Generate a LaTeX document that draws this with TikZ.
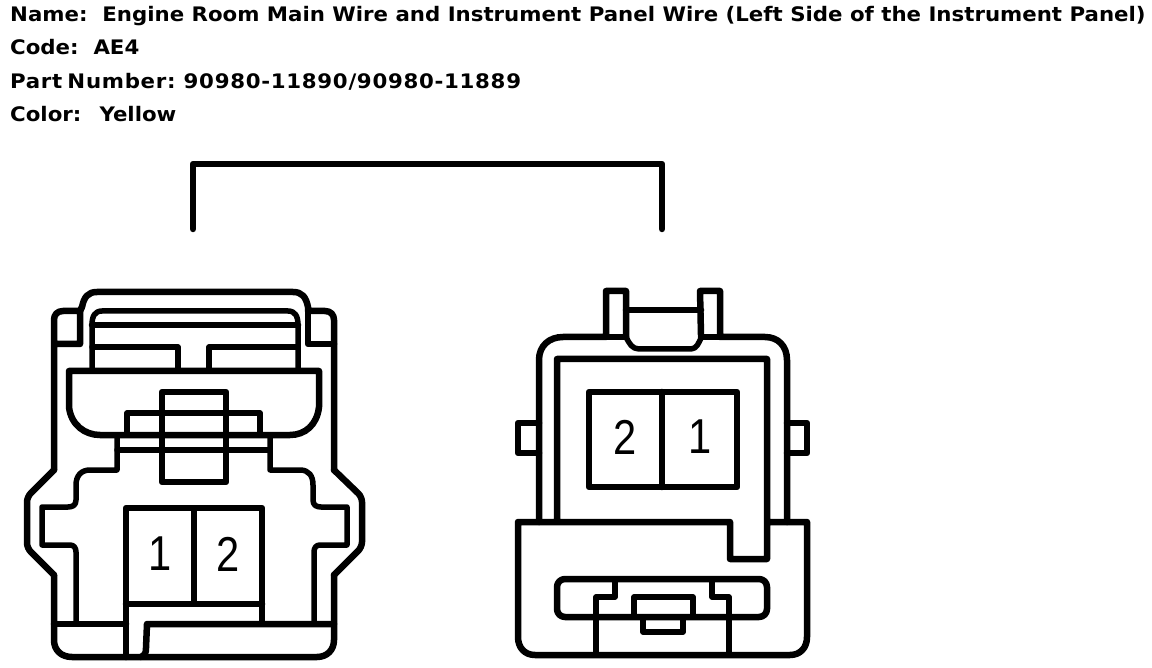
\documentclass[tikz,border=0pt]{standalone}
\usepackage{fontspec}
\newfontfamily\headfont{DejaVu Sans Bold}[FakeStretch=1.065]
\newfontfamily\pinfont{Liberation Sans}[FakeStretch=0.85]
\usetikzlibrary{positioning}
\tikzset{heading/.style={anchor=base west, inner sep=0pt, font=\headfont\fontsize{20}{22}\selectfont}}
\tikzset{pin/.style={inner sep=0pt, font=\pinfont\fontsize{49}{50}\selectfont}}
\tikzset{wire/.style={line width=6.5pt, line join=round, line cap=round}}
\tikzset{thinwire/.style={line width=5.5pt, line join=round, line cap=round}}

\begin{document}
\begin{tikzpicture}[x=1pt, y=-1pt]
\useasboundingbox (0,0) rectangle (1152,668);
\node[heading] (name) at (10,22) {Name:\ \ Engine Room Main Wire and Instrument Panel Wire (Left Side of the Instrument Panel)};
\node[heading] (code) at (10,55) {Code:\ \ AE4};
\node[heading] (part) at (10,89) {\addfontfeature{LetterSpace=3.5}Part\hspace{-3pt} Number:\ 90980-11890/90980-11889};
\node[heading] (color) at (10,122) {Color:\ \ \,Yellow};
\coordinate (bracketL) at (193,229);
\coordinate (bracketR) at (662,229);
\draw[wire] (bracketL) -- (193,164) -- (662,164) -- (bracketR);
\draw[wire, rounded corners=5pt] (334,470) -- (362,497) -- (362,547) -- (334,575);
\draw[wire, rounded corners=5pt] (54,575) -- (27,548) -- (27,497) -- (54,470);
\draw[wire] (82,307) .. controls (84,297) and (88,292) .. (97,292) -- (293,292) .. controls (302,292) and (306,297) .. (308,307) -- (308,311) -- (325,311) .. controls (331,311) and (334,315) .. (334,320) -- (334,470);
\draw[wire] (334,575) -- (334,640) .. controls (334,650) and (327,657) .. (317,657) -- (72,657) .. controls (61,657) and (54,650) .. (54,640) -- (54,575);
\draw[wire] (54,470) -- (54,320) .. controls (54,315) and (57,311) .. (63,311) -- (80,311) -- (80,344) -- (54,344);
\draw[wire] (82,307) -- (80,311);
\draw[wire] (308,311) -- (308,344) -- (334,344);
\draw[thinwire] (92,368) -- (92,325) .. controls (92,316) and (95,311) .. (102,311) -- (288,311) .. controls (295,311) and (298,316) .. (298,325) -- (298,368);
\draw[wire] (92,325) -- (298,325);
\draw[thinwire] (92,347) -- (178,347) -- (178,368);
\draw[thinwire] (298,347) -- (209,347) -- (209,368);
\draw[wire] (69,371) -- (319,371) -- (319,407) .. controls (317,425) and (305,435) .. (290,435) -- (100,435) .. controls (85,435) and (71,425) .. (69,407) -- cycle;
\draw[thinwire] (127,433) -- (127,413) -- (260,413) -- (260,433);
\draw[wire] (162,392) rectangle (226,482);
\draw[thinwire] (117,437) -- (117,470) -- (90,470) .. controls (81,470) and (76,476) .. (76,485) -- (76,500) .. controls (76,505) and (73,507) .. (68,507) -- (42,507) -- (42,545) -- (70,545) .. controls (74,545) and (76,548) .. (76,552) -- (76,623);
\draw[thinwire] (270,437) -- (270,470) -- (300,470) .. controls (309,470) and (313,476) .. (313,485) -- (313,500) .. controls (313,505) and (316,507) .. (321,507) -- (347,507) -- (347,545) -- (320,545) .. controls (316,545) and (314,548) .. (314,552) -- (314,623);
\draw[thinwire] (117,450) -- (270,450);
\draw[wire] (262,623) -- (262,508) -- (126,508) -- (126,657);
\draw[thinwire] (194,508) -- (194,603);
\draw[wire] (126,604) -- (262,604);
\draw[wire] (54,624) -- (126,624);
\draw[wire] (141,657) .. controls (145,655) and (146,653) .. (146,648) -- (147,624) -- (334,624);
\node[pin] (leftOne) at (160,554) {1};
\node[pin] (leftTwo) at (228,554) {2};
\draw[wire] (539,522) -- (539,360) .. controls (539,346) and (549,337) .. (563,337) -- (606,337) -- (606,291) -- (626,291) -- (626,337);
\draw[wire] (626,310) -- (701,310);
\draw[wire] (606,337) -- (626,337);
\draw[wire] (701,335) -- (700,291) -- (720,291) -- (720,337) -- (765,337) .. controls (778,337) and (787,346) .. (787,360) -- (787,522);
\draw[wire] (701,337) -- (720,337);
\draw[thinwire] (626,337) .. controls (629,343) and (632,349) .. (639,349) -- (691,349) .. controls (697,349) and (699,342) .. (702,336);
\draw[wire] (539,423) -- (518,423) -- (518,453) -- (539,453);
\draw[wire] (787,423) -- (807,423) -- (807,453) -- (787,453);
\draw[wire] (557,522) -- (557,359) -- (767,359) -- (767,559) -- (730,559) -- (730,522) -- (518,522) -- (518,637) .. controls (518,648) and (525,655) .. (535,655) -- (790,655) .. controls (800,655) and (807,648) .. (807,637) -- (807,522) -- (767,522);
\draw[wire] (589,392) rectangle (737,487);
\draw[wire] (662,392) -- (662,487);
\node[pin] (rightTwo) at (625,437) {2};
\node[pin] (rightOne) at (700,437) {1};
\draw[wire, rounded corners=8pt] (557,579) rectangle (767,617);
\draw[thinwire] (615,581) -- (615,597) -- (596,597) -- (596,655);
\draw[thinwire] (712,581) -- (712,597) -- (729,597) -- (729,655);
\draw[thinwire] (634,617) -- (634,597) -- (693,597) -- (693,617);
\draw[thinwire] (643,619) -- (643,632) -- (683,632) -- (683,619);
\end{tikzpicture}
\end{document}
